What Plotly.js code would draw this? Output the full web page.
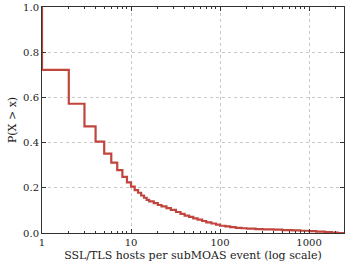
<!DOCTYPE html>
<html><head><meta charset="utf-8">
<script src="https://cdn.plot.ly/plotly-3.0.1.min.js"></script>
<style>html,body{margin:0;padding:0;background:#fff}#c{width:345px;height:262px}</style>
</head><body><div id="c"></div>
<script>
const hosts = [1, 1, 2, 3, 4, 5, 6, 7, 8, 9, 10, 11, 12, 13, 14, 15, 16, 18, 20, 22, 25, 28, 32, 36, 40, 45, 50, 56, 63, 70, 80, 90, 100, 115, 130, 150, 175, 200, 250, 300, 400, 500, 650, 800, 1000, 1200, 1500, 1800, 2100, 2470];
const ccdf  = [1.0, 0.722, 0.572, 0.472, 0.404, 0.351, 0.311, 0.278, 0.248, 0.224, 0.205, 0.190, 0.178, 0.166, 0.156, 0.147, 0.140, 0.132, 0.124, 0.118, 0.110, 0.102, 0.093, 0.085, 0.077, 0.071, 0.065, 0.059, 0.053, 0.047, 0.042, 0.037, 0.032, 0.029, 0.026, 0.023, 0.021, 0.019, 0.017, 0.016, 0.015, 0.013, 0.012, 0.010, 0.008, 0.006, 0.004, 0.002, 0.0, 0.0];
const xTicks = [1, 10, 100, 1000];
const yTicks = [0, 0.2, 0.4, 0.6, 0.8, 1.0];

const font = {family: 'DejaVu Serif', size: 10, color: '#222'};
Plotly.newPlot('c', [{
  x: hosts, y: ccdf, type: 'scatter', mode: 'lines',
  line: {color: '#c0453c', width: 2.2, shape: 'hv'}, hoverinfo: 'skip'
}], {
  width: 345, height: 262,
  margin: {l: 42, r: 1, t: 7, b: 29},
  paper_bgcolor: '#fff', plot_bgcolor: '#fff',
  font: font, showlegend: false,
  xaxis: {
    type: 'log', range: [0, Math.log10(2470)],
    tickvals: xTicks, ticktext: xTicks.map(String),
    ticks: 'inside', ticklen: 4, tickcolor: '#333',
    showline: true, linecolor: '#333', linewidth: 1, mirror: 'ticks',
    showgrid: true, gridcolor: '#c8c8c8', griddash: 'dot', gridwidth: 1,
    zeroline: false, ticklabeloverflow: 'allow', automargin: false,
    minor: {ticks: 'inside', ticklen: 2, tickcolor: '#333', dtick: 'D1', showgrid: false},
    title: {text: 'SSL/TLS hosts per subMOAS event (log scale)', font: {family: 'DejaVu Serif', size: 11, color: '#222'}, standoff: 6},
    tickfont: font
  },
  yaxis: {
    range: [0, 1], tickvals: yTicks, ticktext: yTicks.map(v => v.toFixed(1)),
    ticks: 'inside', ticklen: 4, tickcolor: '#333',
    showline: true, linecolor: '#333', linewidth: 1, mirror: 'ticks',
    showgrid: true, gridcolor: '#c8c8c8', griddash: 'dot', gridwidth: 1,
    zeroline: false, ticklabeloverflow: 'allow', automargin: false,
    title: {text: 'P(X > x)', font: {family: 'DejaVu Serif', size: 11, color: '#222'}, standoff: 4},
    tickfont: font
  }
}, {staticPlot: true});
</script></body></html>
